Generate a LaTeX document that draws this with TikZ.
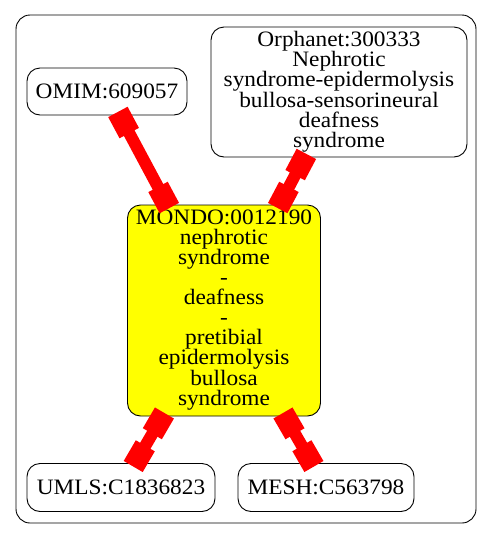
\documentclass[tikz,border=0pt]{standalone}
\usepackage{fontspec}
\setmainfont{Liberation Serif}[FakeStretch=1.06]
\usetikzlibrary{arrows.meta}
\definecolor{gyellow}{RGB}{255,255,0}
\definecolor{gred}{RGB}{255,0,0}
\begin{document}
\begin{tikzpicture}[x=1pt,y=-1pt,
  gnode/.style={draw=black, line width=0.9pt, rounded corners=13pt, align=center, inner sep=0pt,
    font=\fontsize{22}{20}\selectfont},
  sqtip/.tip={Square[length=24pt,width=22pt]},
  link/.style={draw=gred, line width=12pt, {sqtip}-{sqtip}, shorten <=-4pt, shorten >=-4pt}]
\useasboundingbox[fill=white] (0,0) rectangle (493,539);
\node[draw=black, line width=0.9pt, rounded corners=14pt, minimum width=460pt, minimum height=508pt, inner sep=0pt] (cluster) at (246,269) {};
\node[gnode, minimum width=160pt, minimum height=47pt] (omim) at (107,91.5) {OMIM:609057};
\node[gnode, minimum width=256pt, minimum height=130pt] (orpha) at (339,92) {Orphanet:300333\\Nephrotic\\syndrome-epidermolysis\\bullosa-sensorineural\\deafness\\syndrome};
\node[gnode, fill=gyellow, minimum width=193pt, minimum height=211pt] (mondo) at (224,310.5) {MONDO:0012190\\nephrotic\\syndrome\\-\\deafness\\-\\pretibial\\epidermolysis\\bullosa\\syndrome};
\node[gnode, minimum width=188pt, minimum height=48pt] (umls) at (121,487.5) {UMLS:C1836823};
\node[gnode, minimum width=176pt, minimum height=48pt] (mesh) at (326,487.5) {MESH:C563798};
\draw[link] (omim) -- (mondo);
\draw[link] (orpha) -- (mondo);
\draw[link] (mondo) -- (umls);
\draw[link] (mondo) -- (mesh);
\end{tikzpicture}
\end{document}
